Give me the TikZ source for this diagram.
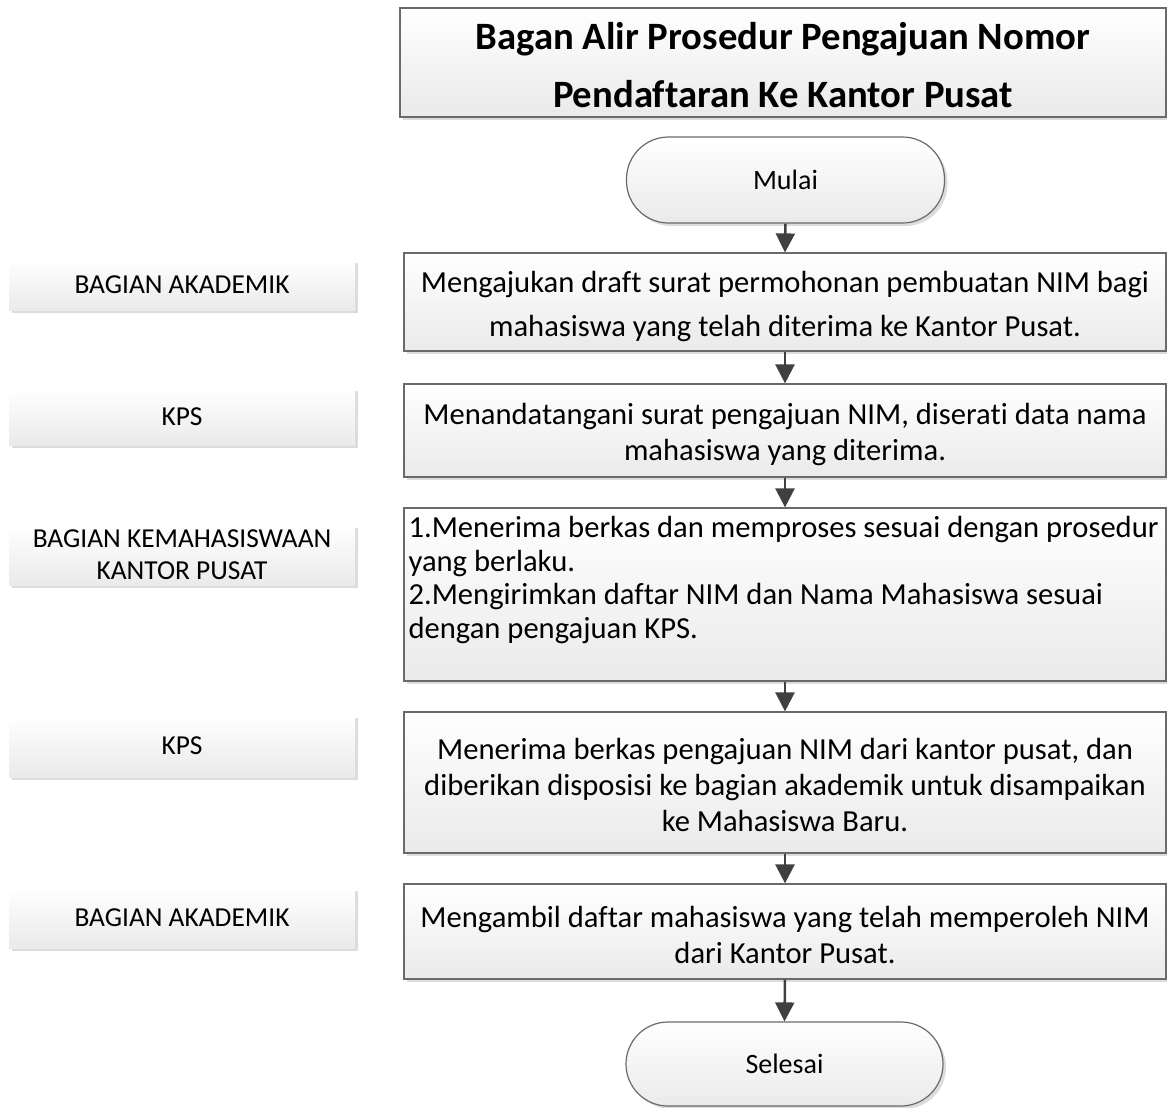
\documentclass[tikz,border=0pt]{standalone}
\usepackage{fontspec}
\setmainfont{Carlito}[Ligatures=NoCommon]
\usetikzlibrary{arrows.meta,shadows}

\definecolor{edgegray}{HTML}{6A6A6A}
\definecolor{arrowgray}{HTML}{404040}
\definecolor{shadowgray}{HTML}{DCDCDC}
\definecolor{fillbottom}{HTML}{EAEAEA}

\tikzset{
  x=1pt, y=1pt,
  softshadow/.style={drop shadow={shadow xshift=3pt, shadow yshift=-3pt, fill=shadowgray, opacity=1}},
  procbox/.style={draw=edgegray, line width=1.2pt, top color=white, bottom color=fillbottom,
    softshadow, inner sep=0pt, minimum width=762pt},
  boxtext/.style={inner sep=0pt, align=center, font=\fontsize{30.6}{36}\selectfont},
  termbox/.style={procbox, rounded corners=42pt, minimum width=318pt,
    font=\fontsize{28}{32}\selectfont},
  lanebox/.style={top color=white, bottom color=fillbottom, softshadow, inner sep=0pt,
    minimum width=346pt, align=center, font=\fontsize{27.4}{32}\selectfont},
  flow/.style={draw=arrowgray, line width=2.5pt, -{Triangle[length=19pt,width=19pt]}},
}

\begin{document}
\begin{tikzpicture}
\useasboundingbox (0,0) rectangle (1167,-1108);

% title
\node[procbox, minimum width=766pt, minimum height=109pt] (title) at (783,-62.5) {};
\node[boxtext, font=\bfseries\fontsize{38.7}{58}\selectfont] (titletext)
  at ([yshift=-3pt]title.center)
  {Bagan Alir Prosedur Pengajuan Nomor\\Pendaftaran Ke Kantor Pusat};

% flow column
\node[termbox, minimum height=86pt] (mulai) at (785.5,-180) {Mulai};

\node[procbox, minimum height=98pt] (b1) at (785,-302) {};
\node[boxtext, font=\fontsize{30.6}{44}\selectfont] (b1text) at ([yshift=-4.5pt]b1.center)
  {Mengajukan draft surat permohonan pembuatan NIM bagi\\mahasiswa yang telah diterima ke Kantor Pusat.};

\node[procbox, minimum height=93pt] (b2) at (785,-430.5) {};
\node[boxtext] (b2text) at ([yshift=-4pt]b2.center)
  {Menandatangani surat pengajuan NIM, diserati data nama\\mahasiswa yang diterima.};

\node[procbox, minimum height=173pt] (b3) at (785,-594.5) {};
\node[anchor=north west, align=left, inner sep=0pt, font=\fontsize{30.6}{33.5}\selectfont] (b3text)
  at ([xshift=5pt,yshift=-9pt]b3.north west)
  {1.Menerima berkas dan memproses sesuai dengan prosedur\\yang berlaku.\\2.Mengirimkan daftar NIM dan Nama Mahasiswa sesuai\\dengan pengajuan KPS.};

\node[procbox, minimum height=141pt] (b4) at (785,-782.5) {};
\node[boxtext] (b4text) at ([yshift=-2.5pt]b4.center)
  {Menerima berkas pengajuan NIM dari kantor pusat, dan\\diberikan disposisi ke bagian akademik untuk disampaikan\\ke Mahasiswa Baru.};

\node[procbox, minimum height=95pt] (b5) at (785,-931.5) {};
\node[boxtext] (b5text) at ([yshift=-3.5pt]b5.center)
  {Mengambil daftar mahasiswa yang telah memperoleh NIM\\dari Kantor Pusat.};

\node[termbox, minimum height=84pt, minimum width=317pt] (selesai) at (784.5,-1064) {Selesai};

% lane labels
\node[lanebox, minimum height=50pt] (l1) at (182,-285) {BAGIAN AKADEMIK};
\node[lanebox, minimum height=57pt] (l2) at (182,-416.5) {KPS};
\node[lanebox, minimum height=60pt] (l3) at (182,-555) {BAGIAN KEMAHASISWAAN\\KANTOR PUSAT};
\node[lanebox, minimum height=62pt] (l4) at (182,-746) {KPS};
\node[lanebox, minimum height=60pt] (l5) at (182,-918) {BAGIAN AKADEMIK};

% connectors
\draw[flow] (mulai.south) -- (b1.north);
\draw[flow] (b1.south) -- (b2.north);
\draw[flow] (b2.south) -- (b3.north);
\draw[flow] (b3.south) -- (b4.north);
\draw[flow] (b4.south) -- (b5.north);
\draw[flow] (b5.south) -- (selesai.north);
\end{tikzpicture}
\end{document}
